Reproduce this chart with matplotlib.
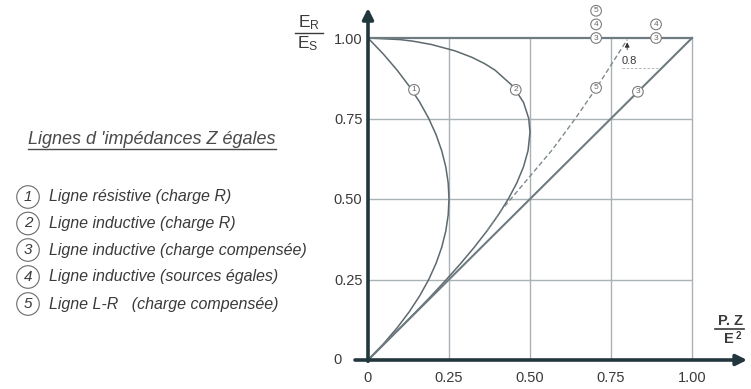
import matplotlib
matplotlib.use("Agg")
import matplotlib.pyplot as plt
from matplotlib.lines import Line2D

plt.rcParams['font.family'] = ['Liberation Sans', 'DejaVu Sans']
plt.rcParams['mathtext.fontset'] = 'custom'
plt.rcParams['mathtext.rm'] = 'Liberation Sans'
plt.rcParams['mathtext.it'] = 'Liberation Sans:italic'
plt.rcParams['mathtext.bf'] = 'Liberation Sans:bold'

# --- data (P.Z/E^2 , E_R/E_S) ---
# 1 : ligne resistive, charge R
res_p = [0.0, 0.0475, 0.09, 0.1275, 0.16, 0.1875, 0.21, 0.2275, 0.24, 0.2475, 0.25,
         0.2475, 0.24, 0.2275, 0.21, 0.1875, 0.16, 0.1275, 0.09, 0.0475, 0.0]
res_v = [1.0, 0.95, 0.90, 0.85, 0.80, 0.75, 0.70, 0.65, 0.60, 0.55, 0.50,
         0.45, 0.40, 0.35, 0.30, 0.25, 0.20, 0.15, 0.10, 0.05, 0.0]
# 2 : ligne inductive, charge R
ind_p = [0.0, 0.0994, 0.1397, 0.195, 0.2688, 0.3207, 0.3606, 0.3923, 0.4478, 0.48, 0.4961,
         0.50, 0.4939, 0.48, 0.4593, 0.433, 0.4019, 0.3666, 0.3279, 0.2862, 0.2421,
         0.196, 0.1483, 0.0995, 0.05, 0.0]
ind_v = [1.0, 0.995, 0.99, 0.98, 0.96, 0.94, 0.92, 0.90, 0.85, 0.80, 0.75,
         0.707, 0.65, 0.60, 0.55, 0.50, 0.45, 0.40, 0.35, 0.30, 0.25,
         0.20, 0.15, 0.10, 0.05, 0.0]
# 3 : ligne inductive, charge compensee
comp_p = [0.0, 1.0]
comp_v = [0.0, 1.0]
# 3 / 4 / 5 : tension maintenue
top_p = [0.0, 1.0]
top_v = [1.0, 1.0]
# 5 : ligne L-R, charge compensee (tirets)
lr_p = [0.3666, 0.4124, 0.568, 0.64, 0.707, 0.80]
lr_v = [0.40, 0.466, 0.652, 0.75, 0.848, 0.995]

x_ticks = [0, 0.25, 0.50, 0.75, 1.00]
x_labels = ['0', '0.25', '0.50', '0.75', '1.00']
y_ticks = [0.25, 0.50, 0.75, 1.00]
y_labels = ['0.25', '0.50', '0.75', '1.00']
grid_vals = [0.25, 0.50, 0.75]

legend_title = "Lignes d 'impédances Z égales"
legend_nums = ['1', '2', '3', '4', '5']
legend_txt = ['Ligne résistive (charge R)',
              'Ligne inductive (charge R)',
              'Ligne inductive (charge compensée)',
              'Ligne inductive (sources égales)',
              'Ligne L-R   (charge compensée)']

W, H = 751, 389
def fx(x): return x / W
def fy(y): return 1 - y / H

AX_COL = '#22363d'
CURVE = '#5d696e'
GRID = '#aab2b5'
TXT = '#3a3a3a'

fig = plt.figure(figsize=(W / 100, H / 100), dpi=100)
# x=0 -> 368px, x=1 -> 692px ; y=0 -> 360px, y=1 -> 38px (from top)
ax = fig.add_axes([fx(368), 29 / H, (W - 368) / W, 360 / H])
ax.set_xlim(0, (W - 368) / 324)
ax.set_ylim(0, 360 / 322)
for s in ax.spines.values():
    s.set_visible(False)

# grid + cadre
ax.vlines(grid_vals + [1.0], 0, 1, color=GRID, lw=1.0, zorder=1)
ax.hlines(grid_vals, 0, 1, color=GRID, lw=1.0, zorder=1)

# courbes
ax.plot(res_p, res_v, color=CURVE, lw=1.1, zorder=2)
ax.plot(ind_p, ind_v, color=CURVE, lw=1.1, zorder=2)
ax.plot(comp_p, comp_v, color='#6e7b80', lw=1.5, zorder=2)
ax.plot(top_p, top_v, color='#6e7b80', lw=1.6, zorder=2)
ax.plot(lr_p, lr_v, color='#7f8a8e', lw=1.0, ls=(0, (3.5, 2)), zorder=2)

# annotation 0.8
ax.annotate('', xy=(0.80, 0.995), xytext=(0.80, 0.955),
            arrowprops=dict(arrowstyle='-|>', color='#333', lw=0.6, mutation_scale=7))
ax.text(0.783, 0.930, '0.8', fontsize=8, color=TXT, ha='left', va='center')
ax.plot([0.784, 0.895], [0.907, 0.907], color='#aaa', lw=0.6, ls=(0, (3, 2)))

# axes avec fleches
ax.annotate('', xy=(0, 1.093), xytext=(0, -0.004),
            arrowprops=dict(arrowstyle='-|>', color=AX_COL, lw=2.6, mutation_scale=16,
                            shrinkA=0, shrinkB=0), annotation_clip=False)
ax.annotate('', xy=(1.17, 0), xytext=(-0.04, 0),
            arrowprops=dict(arrowstyle='-|>', color=AX_COL, lw=2.6, mutation_scale=16,
                            shrinkA=0, shrinkB=0), annotation_clip=False)

ax.set_xticks(x_ticks)
ax.set_xticklabels(x_labels)
ax.set_yticks(y_ticks)
ax.set_yticklabels(y_labels)
ax.tick_params(length=0, labelsize=10.5, labelcolor=TXT)
ax.tick_params(axis='x', pad=8)
ax.tick_params(axis='y', pad=4)
ax.text(-0.095, 0, '0', fontsize=10.5, color=TXT, ha='center', va='center', clip_on=False)

# etiquettes cerclees sur les courbes
def tag(x, y, s, dy=0):
    ax.annotate(s, xy=(x, y), xytext=(0, dy), textcoords='offset points',
                fontsize=6, color='#666', ha='center', va='center', zorder=5,
                bbox=dict(boxstyle='circle,pad=0.22', fc='white', ec='#7d7d7d', lw=0.8))

tag(0.142, 0.839, '1')
tag(0.456, 0.839, '2')
tag(0.833, 0.833, '3')
tag(0.704, 0.845, '5')
tag(0.704, 1.0, '3')
tag(0.704, 1.0, '4', 9.8)
tag(0.704, 1.0, '5', 19.6)
tag(0.889, 1.0, '3')
tag(0.889, 1.0, '4', 9.8)

# libelles des axes
fig.text(fx(309), fy(23), r'$\mathregular{E_R}$', fontsize=12.5, color=TXT, ha='center', va='center')
fig.add_artist(Line2D([fx(295), fx(323)], [fy(33), fy(33)], color=TXT, lw=1.0))
fig.text(fx(308), fy(44), r'$\mathregular{E_S}$', fontsize=12.5, color=TXT, ha='center', va='center')

fig.text(fx(730), fy(321), 'P. Z', fontsize=10.5, fontweight='bold', color=TXT, ha='center', va='center')
fig.add_artist(Line2D([fx(715), fx(744)], [fy(329), fy(329)], color=TXT, lw=1.2))
fig.text(fx(729), fy(339), 'E', fontsize=10.5, fontweight='bold', color=TXT, ha='center', va='center')
fig.text(fx(738), fy(336), '2', fontsize=7, fontweight='bold', color=TXT, ha='center', va='center')

# legende a gauche
title = fig.text(fx(28), fy(140), legend_title, fontsize=13, style='italic', color='#4a4a4a',
                 ha='left', va='center')
row_y = [197, 223.5, 250, 277, 304]
for n, t, y in zip(legend_nums, legend_txt, row_y):
    fig.text(fx(28), fy(y), n, fontsize=11, style='italic', color=TXT, ha='center', va='center',
             bbox=dict(boxstyle='circle,pad=0.28', fc='white', ec='#6a6a6a', lw=0.8))
    fig.text(fx(49), fy(y), t, fontsize=11.5, style='italic', color=TXT, ha='left', va='center')

fig.canvas.draw()
bb = title.get_window_extent()
fig.add_artist(Line2D([bb.x0 / W, bb.x1 / W], [fy(149), fy(149)], color='#4a4a4a', lw=1.0))

fig.savefig('out.png', dpi=100)
